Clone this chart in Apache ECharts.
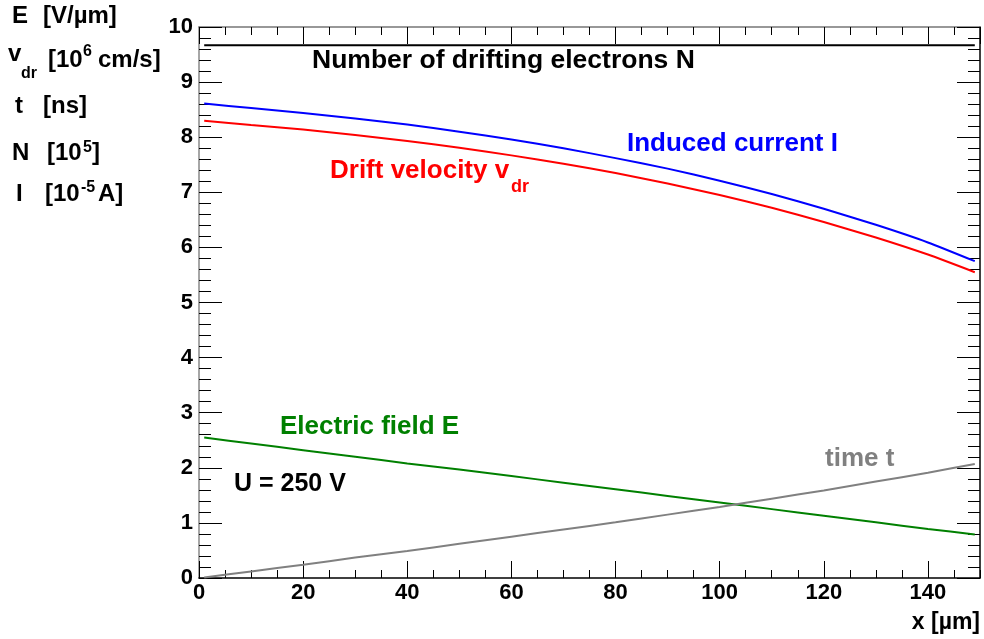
<!DOCTYPE html>
<html>
<head>
<meta charset="utf-8">
<script src="https://cdn.jsdelivr.net/npm/echarts@6/dist/echarts.min.js"></script>
<style>
html,body{margin:0;padding:0;background:#fff;}
#chart{width:984px;height:639px;}
</style>
</head>
<body>
<div id="chart"></div>
<script>
// ---- data ----
const xPositions = [1, 10, 20, 30, 40, 50, 60, 70, 80, 90, 100, 110, 120, 130, 140, 149];
const driftVelocity = [8.30, 8.22, 8.14, 8.04, 7.93, 7.81, 7.67, 7.52, 7.35, 7.16, 6.95, 6.72, 6.46, 6.18, 5.87, 5.55];
const inducedCurrent = [8.61, 8.53, 8.44, 8.34, 8.23, 8.10, 7.96, 7.80, 7.62, 7.43, 7.21, 6.97, 6.70, 6.41, 6.09, 5.75];
const electricField = [2.55, 2.44, 2.32, 2.20, 2.08, 1.97, 1.85, 1.73, 1.61, 1.49, 1.37, 1.25, 1.13, 1.01, 0.89, 0.79];
const driftTime = [0.01, 0.12, 0.24, 0.37, 0.49, 0.62, 0.75, 0.88, 1.01, 1.15, 1.29, 1.44, 1.59, 1.75, 1.91, 2.07];
const electronCount = [9.67, 9.67, 9.67, 9.67, 9.67, 9.67, 9.67, 9.67, 9.67, 9.67, 9.67, 9.67, 9.67, 9.67, 9.67, 9.67];

const xMin = 0, xMax = 150, xMajor = 20, xMinor = 5;
const yMin = 0, yMax = 10, yMajor = 1, yMinor = 0.2;

const FONT = "'Liberation Sans', Arial, Helvetica, sans-serif";

function pairs(vals) { return xPositions.map((x, i) => [x, vals[i]]); }

function xAx(pos, interval, len, labels, lineColor, showLine) {
  return {
    type: 'value', position: pos, min: xMin, max: xMax, interval: interval,
    axisLine: { show: showLine, onZero: false, lineStyle: { color: lineColor, width: 1.5 } },
    axisTick: { show: true, inside: true, length: len, lineStyle: { color: '#000', width: 1 } },
    axisLabel: { show: labels, showMaxLabel: false, margin: 4, color: '#000', fontWeight: 'bold', fontSize: 22, fontFamily: FONT },
    splitLine: { show: false }
  };
}
function yAx(pos, interval, len, labels, lineColor, showLine) {
  return {
    type: 'value', position: pos, min: yMin, max: yMax, interval: interval,
    axisLine: { show: showLine, onZero: false, lineStyle: { color: lineColor, width: 1.5 } },
    axisTick: { show: true, inside: true, length: len, lineStyle: { color: '#000', width: 1 } },
    axisLabel: { show: labels, margin: 6, color: '#000', fontWeight: 'bold', fontSize: 22, fontFamily: FONT },
    splitLine: { show: false }
  };
}

function line(name, vals, color) {
  return {
    name: name, type: 'line', xAxisIndex: 0, yAxisIndex: 0,
    data: pairs(vals), showSymbol: false, smooth: 0.2,
    lineStyle: { color: color, width: 2 }, itemStyle: { color: color },
    animation: false, silent: true
  };
}

function txt(text, x, y, size, color, align) {
  return {
    type: 'text', x: x, y: y, silent: true,
    style: { text: text, fill: color, font: 'bold ' + size + 'px ' + FONT, align: align || 'left', verticalAlign: 'middle' }
  };
}

const chart = echarts.init(document.getElementById('chart'), null, { renderer: 'canvas' });
chart.setOption({
  animation: false,
  backgroundColor: '#fff',
  grid: { left: 199, right: 4, top: 27, bottom: 61, containLabel: false },
  xAxis: [
    xAx('bottom', xMajor, 17, true, '#000', true),
    xAx('bottom', xMinor, 8, false, '#000', false),
    xAx('top', xMajor, 17, false, '#777', true),
    xAx('top', xMinor, 8, false, '#777', false)
  ],
  yAxis: [
    yAx('left', yMajor, 23, true, '#888', true),
    yAx('left', yMinor, 12, false, '#888', false),
    yAx('right', yMajor, 23, false, '#000', true),
    yAx('right', yMinor, 12, false, '#000', false)
  ],
  series: [
    line('Number of drifting electrons N', electronCount, '#000000'),
    line('Induced current I', inducedCurrent, '#0000ff'),
    line('Drift velocity', driftVelocity, '#ff0000'),
    line('Electric field E', electricField, '#008000'),
    line('time t', driftTime, '#808080')
  ],
  graphic: [
    // left unit legend
    txt('E', 12, 16, 24, '#000'), txt('[V/\u00b5m]', 43, 16, 24, '#000'),
    txt('v', 8, 54, 24, '#000'), txt('dr', 21, 74, 16, '#000'),
    txt('[10', 48, 60, 24, '#000'), txt('6', 83, 52, 16, '#000'), txt('cm/s]', 98, 60, 24, '#000'),
    txt('t', 15, 106, 24, '#000'), txt('[ns]', 43, 106, 24, '#000'),
    txt('N', 12, 153, 24, '#000'), txt('[10', 47, 153, 24, '#000'), txt('5', 83, 148, 16, '#000'), txt(']', 92, 153, 24, '#000'),
    txt('I', 16, 194, 24, '#000'), txt('[10', 45, 194, 24, '#000'), txt('-5', 81, 188, 16, '#000'), txt('A]', 98, 194, 24, '#000'),
    // curve annotations
    txt('Number of drifting electrons N', 312, 61, 26.5, '#000'),
    txt('Induced current I', 627, 144, 26, '#0000ff'),
    txt('Drift velocity v', 330, 171, 26, '#ff0000'), txt('dr', 511, 187, 18, '#ff0000'),
    txt('Electric field E', 280, 427, 26, '#008000'),
    txt('U = 250 V', 234, 484, 25, '#000'),
    txt('time t', 825, 459, 26, '#808080'),
    txt('x [\u00b5m]', 980, 623, 23, '#000', 'right')
  ]
});
</script>
</body>
</html>
